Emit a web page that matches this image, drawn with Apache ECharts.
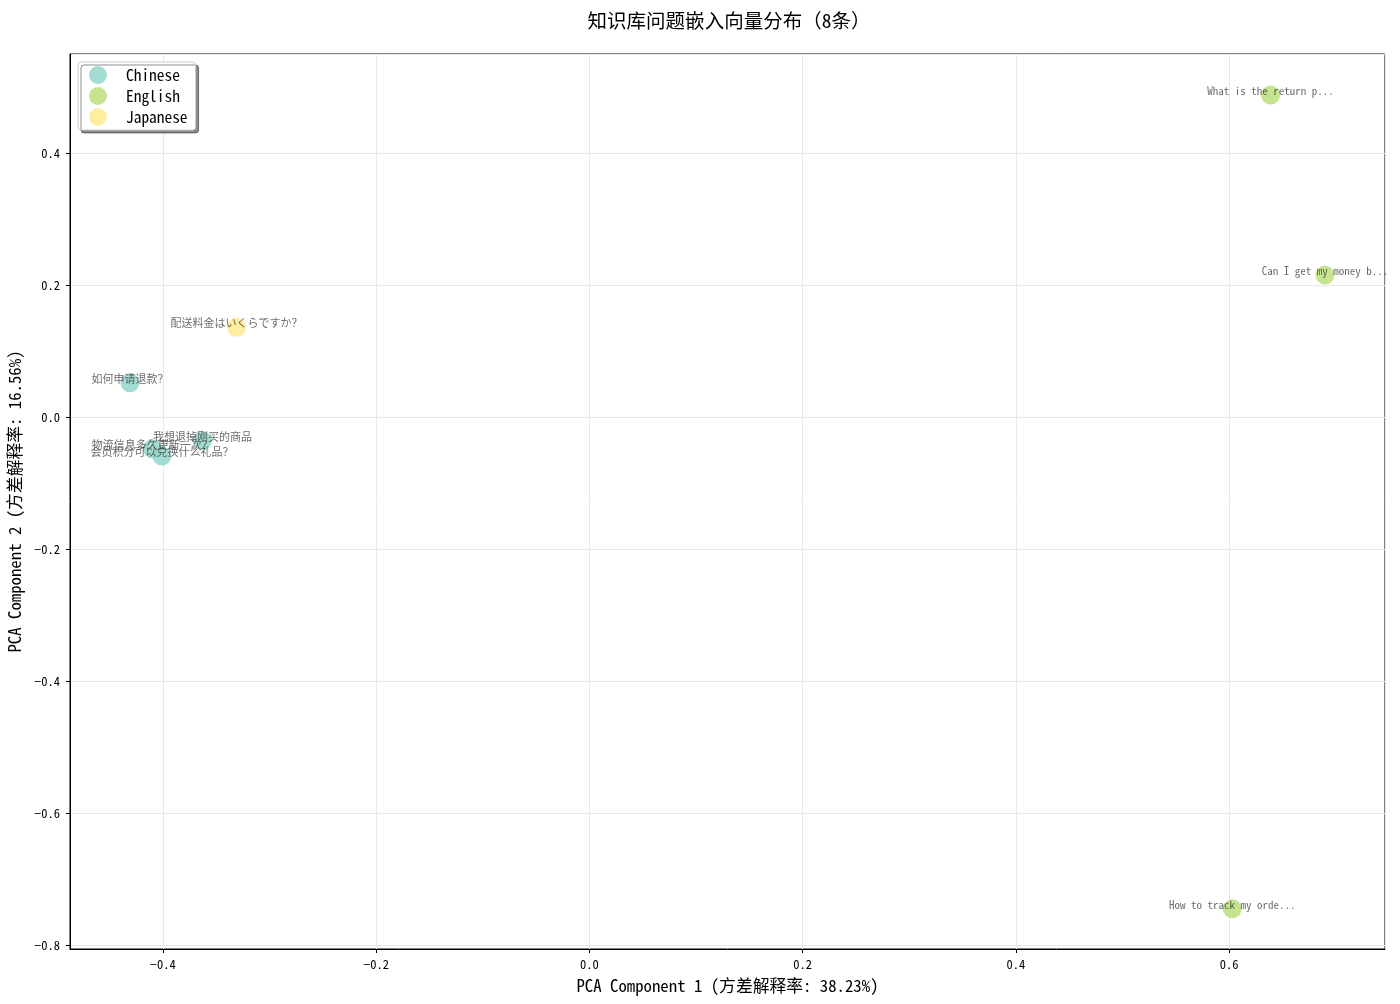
<!DOCTYPE html>
<html><head><meta charset="utf-8">
<script src="https://cdn.jsdelivr.net/npm/echarts@6/dist/echarts.min.js"></script>
<style>html,body{margin:0;padding:0;background:#fff}#c{width:1400px;height:1004px}</style>
</head><body><div id="c"></div>
<script>
const FONT = '"Noto Sans Mono CJK SC", "DejaVu Sans Mono", "Noto Sans CJK SC", monospace';
const titleText = '知识库问题嵌入向量分布（8条）';
const xName = 'PCA Component 1 (方差解释率: 38.23%)';
const yName = 'PCA Component 2 (方差解释率: 16.56%)';
const languages = ['Chinese', 'English', 'Japanese'];
const langColors = ['#8dd3c7', '#b6dd73', '#fcea88'];
const questions = ['如何申请退款？', '我想退掉刚买的商品', '物流信息多久更新一次？', '会员积分可以兑换什么礼品？',
  'What is the return p...', 'Can I get my money b...', 'How to track my orde...', '配送料金はいくらですか？'];
const questionLang = ['Chinese', 'Chinese', 'Chinese', 'Chinese', 'English', 'English', 'English', 'Japanese'];
const pc1 = [-0.431, -0.363, -0.410, -0.401, 0.639, 0.690, 0.603, -0.331];
const pc2 = [0.052, -0.036, -0.048, -0.059, 0.488, 0.215, -0.745, 0.136];
const xMin = -0.4872, xMax = 0.7463, yMin = -0.806, yMax = 0.55;

const fmt = v => v.toFixed(1).replace('-', '−');
const series = languages.map((lang, li) => ({
  name: lang, type: 'scatter', symbolSize: 19,
  itemStyle: { color: langColors[li], opacity: 0.8 },
  label: { show: true, position: 'inside', offset: [0, -4], formatter: p => p.data[2],
    fontFamily: FONT, fontSize: 11, color: 'rgba(50,50,50,0.9)' },
  data: questions.map((q, i) => [pc1[i], pc2[i], q, questionLang[i]]).filter(d => d[3] === lang)
}));

const chart = echarts.init(document.getElementById('c'));
chart.setOption({
  animation: false,
  textStyle: { fontFamily: FONT },
  title: { text: titleText, left: 724, textAlign: 'center', top: 6,
    textStyle: { fontFamily: FONT, fontSize: 19.5, fontWeight: 'normal', color: '#000' } },
  grid: { left: 70, right: 15, top: 54, bottom: 55, show: true, borderColor: '#000', borderWidth: 1,
    outerBoundsMode: 'none', containLabel: false },
  legend: { orient: 'vertical', left: 78, top: 62, data: languages, icon: 'circle', itemWidth: 18, itemHeight: 18,
    itemGap: 3, padding: [4, 8, 4, 11], backgroundColor: '#fff', borderColor: '#ccc', borderWidth: 1, borderRadius: 3,
    shadowColor: 'rgba(0,0,0,0.45)', shadowOffsetX: 3, shadowOffsetY: 3, shadowBlur: 0,
    textStyle: { fontFamily: FONT, fontSize: 15.4, color: '#000', padding: [0, 0, 0, 14] } },
  xAxis: { type: 'value', min: xMin, max: xMax, splitNumber: 6, name: xName, nameLocation: 'middle', nameGap: 28,
    nameTextStyle: { fontFamily: FONT, fontSize: 16.8, color: '#000' },
    axisLine: { show: true, onZero: false, lineStyle: { color: '#000' } },
    axisTick: { show: true, inside: false, length: 4, lineStyle: { color: '#000' } },
    axisLabel: { formatter: fmt, showMinLabel: false, showMaxLabel: false, fontFamily: FONT, fontSize: 12.5, color: '#000', margin: 9 },
    splitLine: { show: true, lineStyle: { color: '#e8e8e8', width: 1 } } },
  yAxis: { type: 'value', min: yMin, max: yMax, splitNumber: 7, name: yName, nameLocation: 'middle', nameGap: 41,
    nameTextStyle: { fontFamily: FONT, fontSize: 16.8, color: '#000' },
    axisLine: { show: true, onZero: false, lineStyle: { color: '#000' } },
    axisTick: { show: true, inside: false, length: 4, lineStyle: { color: '#000' } },
    axisLabel: { formatter: fmt, showMinLabel: false, showMaxLabel: false, fontFamily: FONT, fontSize: 12.5, color: '#000', margin: 10 },
    splitLine: { show: true, lineStyle: { color: '#e8e8e8', width: 1 } } },
  series: series
});
</script></body></html>
